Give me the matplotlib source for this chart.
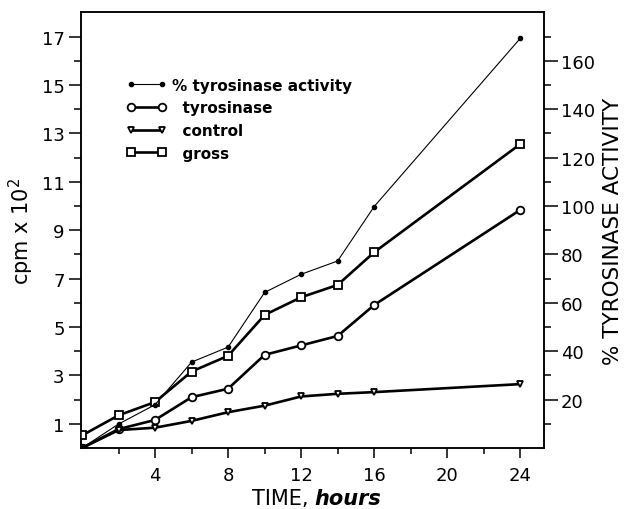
import matplotlib
matplotlib.use('Agg')
import matplotlib.pyplot as plt
from matplotlib.ticker import FixedLocator

plt.rcParams['font.family'] = ['DejaVu Sans']

# time in hours
hours = [0, 2, 4, 6, 8, 10, 12, 14, 16, 24]

# cpm x 10^2 (left axis)
gross = [0.52, 1.35, 1.90, 3.16, 3.81, 5.50, 6.23, 6.74, 8.09, 12.56]
tyrosinase = [0.0, 0.78, 1.16, 2.10, 2.45, 3.85, 4.24, 4.63, 5.91, 9.84]
control = [0.0, 0.74, 0.84, 1.12, 1.48, 1.75, 2.13, 2.24, 2.31, 2.64]

# % tyrosinase activity (right axis)
pct_activity = [0, 9.9, 17.9, 35.5, 41.7, 64.3, 71.8, 77.3, 99.8, 169.3]

left_ticks = [1, 3, 5, 7, 9, 11, 13, 15, 17]
right_ticks = [20, 40, 60, 80, 100, 120, 140, 160]
x_ticks = [4, 8, 12, 16, 20, 24]

fig = plt.figure(figsize=(6.26, 5.10), dpi=100)
ax = fig.add_axes([0.129, 0.1196, 0.740, 0.854])
ax2 = ax.twinx()

thick = 1.9
mew = 1.3
l_gross, = ax.plot(hours, gross, color='black', lw=thick, marker='s', ms=5.5,
                   mfc='white', mec='black', mew=mew, label='  gross', zorder=3)
l_tyr, = ax.plot(hours, tyrosinase, color='black', lw=thick, marker='o', ms=5.5,
                 mfc='white', mec='black', mew=mew, label='  tyrosinase', zorder=3)
l_ctrl, = ax.plot(hours, control, color='black', lw=thick, marker='v', ms=5,
                  mfc='white', mec='black', mew=mew, label='  control', zorder=3)
l_pct, = ax2.plot(hours, pct_activity, color='black', lw=0.8, marker='o', ms=3,
                  mfc='black', mec='black', label='% tyrosinase activity')

ax.set_xlim(-0.07, 25.3)
ax.set_ylim(0, 18)
ax2.set_ylim(0, 180)

ax.xaxis.set_major_locator(FixedLocator(x_ticks))
ax.xaxis.set_minor_locator(FixedLocator([2, 6, 10, 14, 18, 22]))
ax.yaxis.set_major_locator(FixedLocator(left_ticks))
ax.yaxis.set_minor_locator(FixedLocator([2, 4, 6, 8, 10, 12, 14, 16]))
ax2.yaxis.set_major_locator(FixedLocator(right_ticks))
ax2.yaxis.set_minor_locator(FixedLocator([10, 30, 50, 70, 90, 110, 130, 150, 170]))

ax.tick_params(axis='x', which='major', direction='out', length=7, width=1.1,
               labelsize=13, pad=6)
ax.tick_params(axis='x', which='minor', direction='out', length=4.3, width=1.1)
ax.tick_params(axis='y', which='major', direction='out', length=8.6, width=1.1,
               labelsize=13, pad=3)
ax.tick_params(axis='y', which='minor', direction='out', length=5, width=1.1)
ax2.tick_params(axis='y', which='major', direction='out', length=10, width=1.1,
                labelsize=13, pad=2)
ax2.tick_params(axis='y', which='minor', direction='out', length=5, width=1.1)

for a in (ax, ax2):
    for s in a.spines.values():
        s.set_linewidth(1.1)

ax.set_ylabel('cpm x 10$^2$', fontsize=15, labelpad=4)
ax2.set_ylabel('% TYROSINASE ACTIVITY', fontsize=15.5, labelpad=6)

# x label: plain "TIME," then bold italic "hours"
ax.text(0.505, -0.128, 'TIME, ', transform=ax.transAxes, ha='right', va='baseline',
        fontsize=15)
ax.text(0.505, -0.128, 'hours', transform=ax.transAxes, ha='left', va='baseline',
        fontsize=15, fontweight='bold', fontstyle='italic')

leg = ax2.legend(handles=[l_pct, l_tyr, l_ctrl, l_gross], loc='upper left',
                 bbox_to_anchor=(0.099, 0.85), frameon=False, numpoints=2,
                 handlelength=2.6, handletextpad=0.4, labelspacing=0.5,
                 borderpad=0, borderaxespad=0,
                 prop={'size': 11, 'weight': 'bold'})

fig.savefig('out.png', dpi=100)
